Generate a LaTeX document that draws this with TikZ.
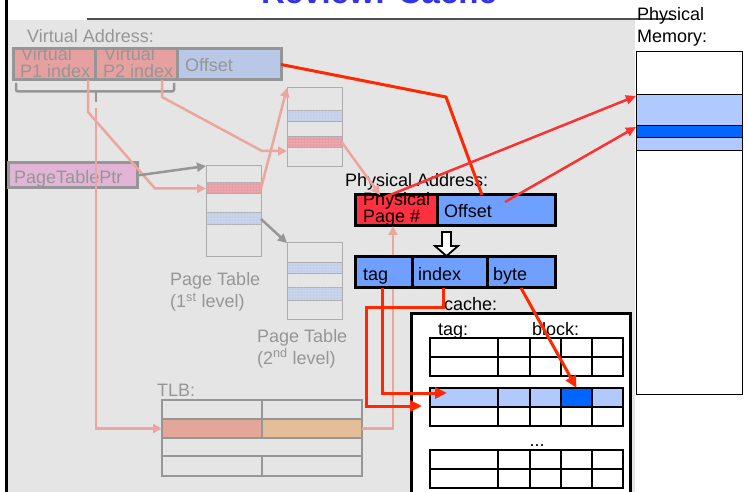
\documentclass[tikz,border=0pt]{standalone}
\usepackage{fontspec}
\setmainfont{Liberation Sans}
\usetikzlibrary{arrows.meta,fit,calc,patterns}

\definecolor{panelgray}{RGB}{229,229,229}
\definecolor{dimtext}{RGB}{150,150,150}
\definecolor{dimline}{RGB}{150,150,150}
\definecolor{rulegray}{RGB}{80,80,80}
\definecolor{tableline}{RGB}{172,172,172}
\definecolor{vpink}{RGB}{230,160,160}
\definecolor{vblue}{RGB}{184,200,230}
\definecolor{ptrfill}{RGB}{226,180,214}
\definecolor{pinkpath}{RGB}{236,166,158}
\definecolor{ptpink}{RGB}{232,158,164}
\definecolor{ptblue}{RGB}{196,208,234}
\definecolor{tlbsalmon}{RGB}{228,166,152}
\definecolor{tlbtan}{RGB}{228,190,152}
\definecolor{pagered}{RGB}{255,48,64}
\definecolor{addrblue}{RGB}{112,160,255}
\definecolor{lineblue}{RGB}{176,202,255}
\definecolor{hotblue}{RGB}{0,102,255}
\definecolor{wire}{RGB}{255,40,0}
\definecolor{memwire}{RGB}{250,50,50}
\definecolor{titleblue}{RGB}{51,51,238}

\tikzset{
  px/.style={font=\fontsize{18}{18}\selectfont},
  lbl/.style={px, inner sep=0pt, anchor=base west},
  dimlbl/.style={lbl, text=dimtext},
  area/.style={inner sep=0pt, outer sep=0pt},
  vfield/.style={area, draw=dimline, line width=3pt},
  ptbox/.style={area, draw=tableline, line width=1pt},
  ptentry/.style={ptbox, fill=#1, postaction={pattern=dots, pattern color=white!70!#1}},
  pfield/.style={area, draw=black, line width=3pt},
  cacheline/.style={area, draw=black, line width=2.5pt},
  pinkarrow/.style={draw=pinkpath, line width=2.5pt, -{Triangle[length=9pt,width=9pt]}},
  grayarrow/.style={draw=dimline, line width=2.5pt, -{Triangle[length=9pt,width=9pt]}},
  redarrow/.style={draw=wire, line width=3pt, -{Triangle[length=12pt,width=11pt]}},
  redline/.style={draw=wire, line width=3pt},
  memarrow/.style={draw=memwire, line width=2.5pt, -{Triangle[length=10pt,width=9pt]}},
}

% one two-line set of a cache: #1 top edge, #2 node name
\newcommand\cachegroup[2]{%
  \node[cacheline, fit={(430,#1)(623,{#1+38})}] (#2) {};
  \draw[line width=2.5pt] (430,{#1+19}) -- (623,{#1+19});
  \draw[line width=2.5pt] (498,#1) -- (498,{#1+38});
  \foreach \cx in {530,561,592} \draw[line width=1.5pt] (\cx,#1) -- (\cx,{#1+38});
}

\begin{document}
\begin{tikzpicture}[x=1pt,y=-1pt]
\useasboundingbox (0,0) rectangle (748,492);
\clip (0,0) rectangle (748,492);
\fill[white] (0,0) rectangle (748,492);
\fill[panelgray] (8,20) rectangle (635,492);
\draw[line width=2.2pt] (6.5,0) -- (6.5,492);
\draw[rulegray, line width=1.3pt] (87,19) -- (673,19);

% title
\node[font=\fontsize{33}{33}\selectfont\bfseries, text=titleblue, anchor=base, inner sep=0pt] (title) at (379,3.5) {Review: Cache};

% physical memory
\node[area, draw=black, line width=1pt, fill=white, fit={(636,52)(742,394)}] (mem) {};
\node[area, draw=black, line width=1pt, fill=lineblue, fit={(636,95)(742,151)}] (memblock) {};
\node[area, draw=black, line width=1pt, fill=hotblue, fit={(636,126)(742,138)}] (memword) {};
\node[lbl] (memlbl1) at (637,21) {Physical};
\node[lbl] (memlbl2) at (637,43) {Memory:};

% page tables
\node[ptentry=ptpink, fit={(206,183)(261,194)}] (pt1a) {};
\node[ptentry=ptblue, fit={(206,213)(261,225)}] (pt1b) {};
\node[ptbox, fit={(206,166)(261,257)}] (pt1) {};
\node[ptentry=ptblue, fit={(287,111)(342,122)}] (pt2a) {};
\node[ptentry=ptpink, fit={(287,137)(342,148)}] (pt2b) {};
\node[ptbox, fit={(287,88)(342,167)}] (pt2) {};
\node[ptentry=ptblue, fit={(287,263)(342,274)}] (pt3a) {};
\node[ptentry=ptblue, fit={(287,288)(342,300)}] (pt3b) {};
\node[ptbox, fit={(287,243)(342,319)}] (pt3) {};
\node[dimlbl] (pt1lbl1) at (170,285) {Page Table};
\node[dimlbl] (pt1lbl2) at (170,308) {(1\textsuperscript{st} level)};
\node[dimlbl] (pt3lbl1) at (257,342) {Page Table};
\node[dimlbl] (pt3lbl2) at (257,364) {(2\textsuperscript{nd} level)};

% virtual address
\node[dimlbl] (valbl) at (27,43) {Virtual Address:};
\node[vfield, fill=vpink, fit={(13,49)(95,80)}] (vp1) {};
\node[vfield, fill=vpink, fit={(95,49)(177,80)}] (vp2) {};
\node[vfield, fill=vblue, fit={(177,49)(281,80)}] (voff) {};
\node[dimlbl] (vp1t1) at (21,61) {Virtual};
\node[dimlbl] (vp1t2) at (20,78) {P1 index};
\node[dimlbl] (vp2t1) at (104,61) {Virtual};
\node[dimlbl] (vp2t2) at (103,78) {P2 index};
\node[dimlbl] (vofft) at (185,72) {Offset};
\draw[dimline, line width=2.5pt, rounded corners=2pt] (16,83) -- (16,91.5) -- (174,91.5) -- (174,83);
\draw[dimline, line width=2.5pt] (96,91.5) -- (96,102) coordinate (bracetip);

% page table pointer
\node[vfield, fill=ptrfill, fit={(8,163)(137,188)}] (ptptr) {};
\node[dimlbl] (ptptrt) at (14,184) {PageTablePtr};

% TLB
\node[dimlbl] (tlblbl) at (157,396) {TLB:};
\node[area, fill=tlbsalmon, fit={(162,419)(262,438)}] (tlbl) {};
\node[area, fill=tlbtan, fit={(262,419)(362,438)}] (tlbr) {};
\node[area, draw=dimline, line width=2.5pt, fit={(162,400)(362,476)}] (tlb) {};
\draw[dimline, line width=2.5pt] (162,419) -- (362,419) (162,438) -- (362,438) (162,456) -- (362,456)
  (262,400) -- (262,438) (262,456) -- (262,476);
\node[px, text=dimtext, anchor=base, inner sep=0pt] (tlbdots) at (269,457) {...};

% translation paths
\draw[pinkarrow] ($(vp1.south east)+(-7,0)$) -- ++(0,32) -- (155,188.5) -- (pt1a.west);
\draw[pinkarrow] ($(vp2.south east)+(-15,0)$) -- ++(0,17) -- (262,151) -- ($(pt2.south west)+(0,-16)$);
\draw[pinkarrow] ($(bracetip)+(0,6)$) |- (tlbl.west);
\draw[pinkarrow] (pt1a.east) -- (pt2.north west);
\draw[grayarrow] (ptptr.east) -- (pt1.north west);
\draw[grayarrow] (pt1b.east) -- (pt3.north west);

% physical address
\node[lbl] (palbl) at (345,187) {Physical Address:};
\node[pfield, fill=pagered, fit={(355,195)(437,226)}] (ppn) {};
\node[pfield, fill=addrblue, fit={(437,195)(555,226)}] (poff) {};
\node[lbl] (ppnt1) at (363,206) {Physical};
\node[lbl] (ppnt2) at (363,223) {Page \#};
\node[lbl] (pofft) at (444,218) {Offset};
\draw[pinkarrow] (pt2b.east) -- ($(ppn.north west)+(25,0)$);
\draw[pinkarrow] (tlbr.east) -| ($(ppn.south west)+(38,0)$);

% split of the address
\draw[fill=white, line width=1.8pt, line join=miter] (442,232) -- (451,232) -- (451,246) -- (458,246) -- (446.5,256) -- (435,246) -- (442,246) -- cycle;
\node[pfield, fill=addrblue, fit={(355,257)(412,288)}] (ftag) {};
\node[pfield, fill=addrblue, fit={(412,257)(487,288)}] (findex) {};
\node[pfield, fill=addrblue, fit={(487,257)(555,288)}] (fbyte) {};
\node[lbl] (ftagt) at (363,280) {tag};
\node[lbl] (findext) at (418,280) {index};
\node[lbl] (fbytet) at (493,280) {byte};

% cache
\node[lbl] (cachelbl) at (444,310) {cache:};
\node[area, draw=black, line width=3pt, fill=white, fit={(411,313)(630,500)}] (cache) {};
\node[lbl] (ctaglbl) at (438,335) {tag:};
\node[lbl] (cblocklbl) at (532,335) {block:};
\cachegroup{338}{set0}
\node[area, fill=lineblue, fit={(430,388)(623,407)}] (selrow) {};
\node[area, fill=hotblue, fit={(561,388)(592,407)}] (hot) {};
\cachegroup{388}{set1}
\node[px, anchor=base, inner sep=0pt] (cachedots) at (537,446) {...};
\cachegroup{450}{set2}

% lookups
\draw[redline] (voff.east) -- (446,97) -- ($(poff.north west)+(45,0)$);
\draw[memarrow] ($(ppn.north west)+(30,2)$) -- ($(memblock.north west)+(0,1)$);
\draw[memarrow] ($(poff.north west)+(68,7)$) -- ($(memword.north west)+(0,1)$);
\draw[redarrow] ($(ftag.south west)+(27,0)$) |- ($(selrow.north west)+(17,5)$);
\draw[redarrow] ($(findex.south west)+(31,0)$) -- ++(0,19) -- (366,307) -- (366,406) -- ($(selrow.south west)+(-8,-1)$);
\draw[redarrow] ($(fbyte.south west)+(34,0)$) -- (hot.north);
\end{tikzpicture}
\end{document}
